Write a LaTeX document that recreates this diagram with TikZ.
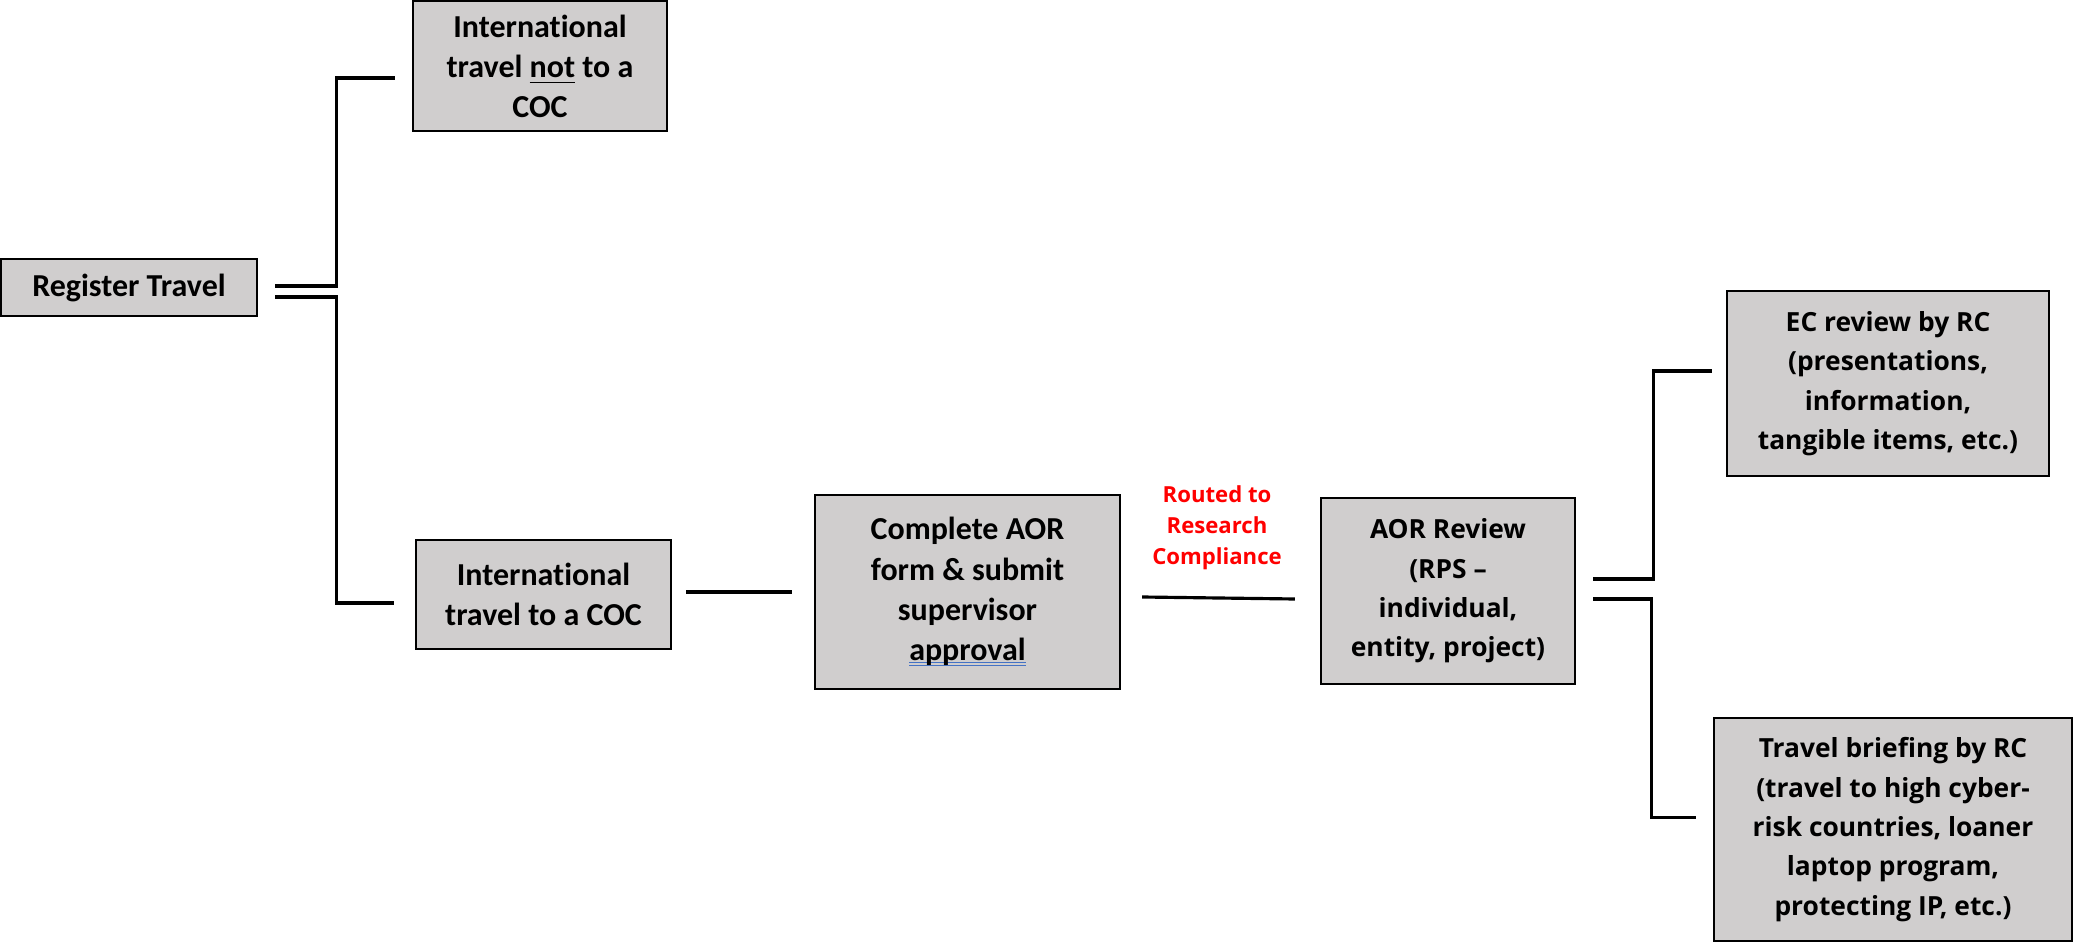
\documentclass[tikz,border=0pt]{standalone}
\usepackage{fontspec}
\setmainfont{Carlito}[Ligatures={TeX,NoCommon}]
\newfontfamily\opensans{Open Sans}[Ligatures=TeX]
\usepackage{xcolor}
\usetikzlibrary{calc}
\definecolor{BoxGrey}{HTML}{D0CECE}
\definecolor{RouteRed}{HTML}{FF0000}
\definecolor{SpellBlue}{HTML}{4472C4}
\newcommand{\spellmark}[1]{\setbox0\hbox{#1}\rlap{\textcolor{SpellBlue}{\rule[-0.9pt]{\wd0}{0.3pt}}}\rlap{\textcolor{SpellBlue}{\rule[-1.8pt]{\wd0}{0.3pt}}}\box0}

\begin{document}
\begin{tikzpicture}[x=0.1mm,y=-0.1mm,
  stepbox/.style={draw=black,line width=0.65pt,fill=BoxGrey,align=center,inner sep=0pt,
    font=\bfseries\fontsize{9.1}{11.4}\selectfont},
  rcbox/.style={stepbox,font=\opensans\bfseries\fontsize{7.5}{11.2}\selectfont},
  routed/.style={align=center,text=RouteRed,inner sep=0pt,font=\opensans\bfseries\fontsize{6.3}{8.8}\selectfont},
  link/.style={line width=0.9pt}]
     \useasboundingbox (0,0) rectangle (2074,944);

     \node[stepbox,minimum width=25.6mm,minimum height=5.7mm] (reg) at (129,287.5) {Register Travel};
     \node[stepbox,minimum width=25.4mm,minimum height=13mm] (notcoc) at (540,66) {International\\travel \underline{not} to a\\COC};
     \node[stepbox,minimum width=25.5mm,minimum height=10.9mm] (coc) at (543.5,594.5) {International\\travel to a COC};
     \node[stepbox,minimum width=30.5mm,minimum height=19.4mm] (aor) at (967.5,592) {Complete AOR\\form \& submit\\supervisor\\\spellmark{approval}};

     \node[rcbox,minimum width=25.4mm,minimum height=18.6mm] (review) at (1448,591) {AOR Review\\(RPS --\\individual,\\entity, project)};
     \node[rcbox,minimum width=32.2mm,minimum height=18.5mm] (ecrev) at (1888,383.5) {EC review by RC\\(presentations,\\information,\\tangible items, etc.)};
     \node[rcbox,minimum width=35.8mm,minimum height=22.3mm] (brief) at (1893,829.5) {Travel briefing by RC\\(travel to high cyber-\\risk countries, loaner\\laptop program,\\protecting IP, etc.)};

     \node[routed] (rc) at (1217,528) {Routed to\\Research\\Compliance};

     \draw[link] ($(reg.east)+(17,-1.5)$) -- ++(61,0) |- ($(notcoc.west)+(-17,12)$);
     \draw[link] ($(reg.east)+(17,9.5)$) -- ++(61,0) |- ($(coc.west)+(-21,8.5)$);
     \draw[link] ($(coc.east)+(14,-2.5)$) -- ($(aor.west)+(-22,0)$);
     \draw[link] ($(aor.east)+(21,5)$) -- ($(review.west)+(-25,8)$);
     \draw[link] ($(review.east)+(17,-12)$) -- ++(60,0) |- ($(ecrev.west)+(-14,-12.5)$);
     \draw[link] ($(review.east)+(17,8)$) -- ++(58,0) |- ($(brief.west)+(-17,-12)$);
\end{tikzpicture}
\end{document}
